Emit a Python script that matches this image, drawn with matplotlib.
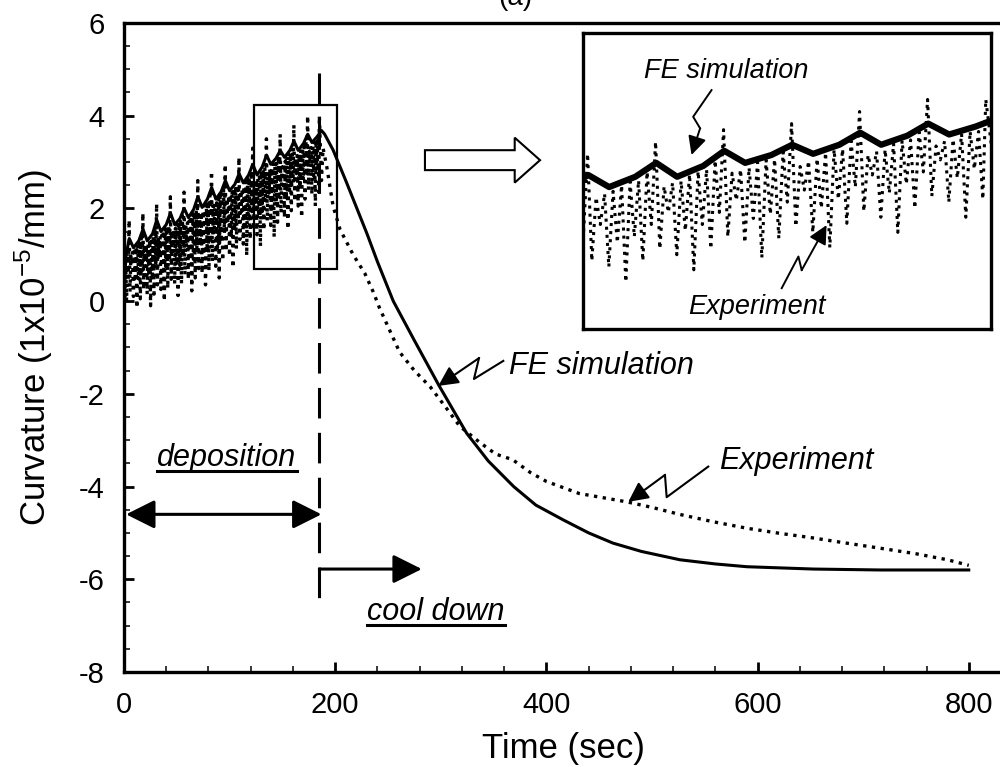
import numpy as np
import matplotlib.pyplot as plt
from matplotlib.patches import Rectangle, FancyArrow
from matplotlib.lines import Line2D
from matplotlib.ticker import MultipleLocator

plt.rcParams['font.family'] = ['Liberation Sans', 'DejaVu Sans']
plt.rcParams['mathtext.fontset'] = 'custom'
plt.rcParams['mathtext.rm'] = 'Liberation Sans'
plt.rcParams['axes.unicode_minus'] = False

# FE simulation: deposition passes (hump per pass) then cool down
fe_dep_t = [0, 2, 5, 9, 14, 18, 22, 27, 31, 35, 40, 44, 48, 53, 57, 61, 66, 70,
            74, 79, 83, 87, 92, 96, 100, 105, 109, 113, 118, 122, 126, 131, 135,
            139, 144, 148, 152, 157, 161, 165, 170, 174, 178, 183, 187]
fe_dep_y = [0.25, 1.0, 1.35, 1.15, 1.3, 1.55, 1.3, 1.45, 1.75, 1.5, 1.65, 1.9,
            1.65, 1.78, 2.0, 1.8, 1.98, 2.25, 2.02, 2.2, 2.45, 2.2, 2.36, 2.6,
            2.38, 2.52, 2.75, 2.55, 2.72, 2.95, 2.72, 2.9, 3.15, 2.95, 3.08, 3.25,
            3.1, 3.25, 3.45, 3.25, 3.4, 3.6, 3.42, 3.55, 3.68]
fe_cool_t = [190, 198, 210, 230, 240, 255, 275, 298, 324.5, 345, 369, 390, 416,
             440, 463, 490, 526.5, 560, 590, 653, 716, 800]
fe_cool_y = [3.6, 3.26, 2.6, 1.46, 0.85, 0.0, -0.85, -1.81, -2.85, -3.45, -4.0,
             -4.4, -4.72, -5.0, -5.22, -5.4, -5.58, -5.67, -5.73, -5.78, -5.8, -5.8]

# experiment: logged every 0.8125 s while depositing, 16 samples per pass
exp_step = 0.8125
exp_dep_y = [
    0.3, 0.1, 0.75, 0.0, 1.1, 0.6, 1.75, 0.2, 0.97, 0.8, 1.05, 0.1, 1.07, 0.5, 1.17, -0.15,
    1.22, 0.45, 1.24, 0.05, 1.39, 0.65, 1.9, 0.25, 1.16, 0.85, 1.21, 0.15, 1.22, 0.55, 1.32, -0.1,
    1.37, 0.55, 1.4, 0.15, 1.57, 0.75, 2.1, 0.35, 1.36, 0.95, 1.41, 0.25, 1.42, 0.65, 1.52, 0.0,
    1.57, 0.67, 1.59, 0.27, 1.74, 0.87, 2.25, 0.47, 1.51, 1.07, 1.56, 0.37, 1.57, 0.77, 1.66, 0.12,
    1.7, 0.77, 1.72, 0.37, 1.85, 0.97, 2.35, 0.57, 1.63, 1.17, 1.69, 0.47, 1.73, 0.87, 1.84, 0.22,
    1.89, 0.9, 1.92, 0.5, 2.08, 1.1, 2.6, 0.7, 1.86, 1.3, 1.92, 0.6, 1.95, 1.0, 2.06, 0.35,
    2.11, 1.05, 2.14, 0.65, 2.29, 1.25, 2.8, 0.85, 2.06, 1.45, 2.11, 0.75, 2.12, 1.15, 2.23, 0.5,
    2.28, 1.27, 2.3, 0.87, 2.44, 1.47, 2.95, 1.07, 2.22, 1.67, 2.28, 0.97, 2.3, 1.37, 2.4, 0.72,
    2.44, 1.53, 2.46, 1.13, 2.6, 1.73, 3.1, 1.33, 2.38, 1.93, 2.44, 1.23, 2.48, 1.63, 2.58, 0.98,
    2.64, 1.73, 2.66, 1.33, 2.8, 1.93, 3.3, 1.53, 2.56, 2.13, 2.62, 1.43, 2.65, 1.83, 2.76, 1.18,
    2.81, 1.93, 2.84, 1.53, 2.99, 2.13, 3.5, 1.73, 2.78, 2.33, 2.84, 1.63, 2.87, 2.03, 2.96, 1.38,
    3.0, 2.1, 3.01, 1.7, 3.13, 2.3, 3.6, 1.9, 2.89, 2.5, 2.98, 1.8, 3.02, 2.2, 3.12, 1.55,
    3.17, 2.35, 3.18, 1.95, 3.31, 2.55, 3.8, 2.15, 3.08, 2.75, 3.14, 2.05, 3.17, 2.45, 3.27, 1.8,
    3.32, 2.6, 3.33, 2.2, 3.46, 2.8, 4.0, 2.4, 3.23, 3.0, 3.31, 2.3, 3.34, 2.7, 3.43, 2.05,
    3.47, 2.85, 3.47, 2.35,
]
exp_cool_t = [185, 187, 188.5, 192, 198, 204.5, 217, 228, 236, 242, 250, 261,
              275, 290, 305, 318, 337, 352, 368, 385, 400, 431, 476, 500, 526,
              558, 590, 621, 650, 684, 716, 750, 780, 800]
exp_cool_y = [4.0, 2.6, 3.3, 2.9, 2.05, 1.55, 1.0, 0.6, 0.2, -0.15, -0.55, -1.1,
              -1.5, -1.85, -2.3, -2.7, -3.05, -3.3, -3.42, -3.7, -3.89, -4.15,
              -4.33, -4.45, -4.6, -4.76, -4.9, -5.01, -5.1, -5.22, -5.33, -5.45,
              -5.58, -5.7]

x_ticks = [0, 200, 400, 600, 800]
y_ticks = [-8, -6, -4, -2, 0, 2, 4, 6]
t_switch = 185              # end of deposition
zoom_box = (123, 0.69, 202, 4.23)

fe_t = np.r_[fe_dep_t, fe_cool_t]
fe_y = np.r_[fe_dep_y, fe_cool_y]
exp_t = np.r_[np.arange(len(exp_dep_y)) * exp_step, exp_cool_t]
exp_y = np.r_[exp_dep_y, exp_cool_y]

fig = plt.figure(figsize=(10, 7.67), dpi=100)
ax = fig.add_axes([0.124, 0.1239, 0.887, 0.8462])

ax.plot(exp_t, exp_y, color='black', ls=':', lw=2.4)
ax.plot(fe_t, fe_y, color='black', lw=2.2)

ax.set_xlim(0, 840)
ax.set_ylim(-8, 6)
ax.set_xticks(x_ticks)
ax.set_yticks(y_ticks)
ax.xaxis.set_minor_locator(MultipleLocator(40))
ax.yaxis.set_minor_locator(MultipleLocator(0.5))
ax.tick_params(which='both', direction='in', top=False, right=False)
ax.tick_params(which='major', length=7, width=2, labelsize=21, pad=14)
ax.tick_params(which='minor', length=4.5, width=1.1)
for s in ['left', 'bottom', 'top']:
    ax.spines[s].set_linewidth(2.4)
ax.spines['right'].set_visible(False)

ax.set_xlabel('Time (sec)', fontsize=25)
ax.xaxis.set_label_coords(0.495, -0.092)
ax.set_ylabel('Curvature (1x10$^{-5}$/mm)', fontsize=25)
ax.yaxis.set_label_coords(-0.078, 0.5)

fig.text(0.515, 1.003, '(a)', ha='center', va='center', fontsize=20)

# phase markers
ax.plot([t_switch, t_switch], [4.93, -6.62], color='black', lw=2.2,
        dashes=(10, 4.7))
ax.annotate('', xy=(2, -4.6), xytext=(187, -4.6),
            arrowprops=dict(arrowstyle='<|-|>,head_length=0.4,head_width=0.2',
                            mutation_scale=44, lw=2.2, color='black',
                            shrinkA=0, shrinkB=0))
ax.annotate('', xy=(282, -5.78), xytext=(t_switch, -5.78),
            arrowprops=dict(arrowstyle='-|>,head_length=0.4,head_width=0.2',
                            mutation_scale=44, lw=2.2, color='black',
                            shrinkA=0, shrinkB=0))
dep_txt = ax.text(97.5, -3.38, 'deposition', fontsize=22, style='italic',
                  ha='center', va='center')
cool_txt = ax.text(295.5, -6.71, 'cool down', fontsize=22, style='italic',
                   ha='center', va='center')

# labels with lightning arrows
ax.text(365, -1.41, 'FE simulation', fontsize=22, style='italic',
        ha='left', va='center')
ax.plot([359.2, 331.4, 336.2], [-1.29, -1.68, -1.23], color='black', lw=1.5)
ax.annotate('', xy=(297.6, -1.83), xytext=(336.2, -1.23),
            arrowprops=dict(arrowstyle='-|>,head_length=0.4,head_width=0.2',
                            mutation_scale=30, lw=1.5, color='black',
                            shrinkA=0, shrinkB=0))
ax.text(564, -3.46, 'Experiment', fontsize=22, style='italic',
        ha='left', va='center')
ax.plot([553.3, 513.9, 512.3], [-3.57, -4.23, -3.75], color='black', lw=1.5)
ax.annotate('', xy=(477.6, -4.33), xytext=(512.3, -3.75),
            arrowprops=dict(arrowstyle='-|>,head_length=0.4,head_width=0.2',
                            mutation_scale=30, lw=1.5, color='black',
                            shrinkA=0, shrinkB=0))

# zoom box and hollow arrow
x0, y0, x1, y1 = zoom_box
ax.add_patch(Rectangle((x0, y0), x1 - x0, y1 - y0, fill=False, lw=1.6,
                       color='black'))
ax.add_patch(FancyArrow(285, 3.04, 109, 0, width=0.43, head_width=0.97,
                        head_length=24, length_includes_head=True,
                        fc='white', ec='black', lw=1.5))

# inset: close-up of the last deposition passes
axi = fig.add_axes([0.583, 0.571, 0.408, 0.386])
axi.plot(exp_t, exp_y, color='black', ls=':', lw=2.2)
axi.plot(fe_t, fe_y, color='black', lw=4.5)
axi.set_xlim(108, 186)
axi.set_ylim(0.2, 5.1)
axi.set_xticks([])
axi.set_yticks([])
for s in axi.spines.values():
    s.set_linewidth(2.4)
axi.text(0.35, 0.87, 'FE simulation', transform=axi.transAxes, fontsize=19.5,
         style='italic', ha='center', va='center')
axi.plot([0.315, 0.270, 0.287], [0.807, 0.717, 0.678], color='black', lw=1.4,
         transform=axi.transAxes)
axi.annotate('', xy=(0.266, 0.588), xytext=(0.287, 0.678),
             xycoords='axes fraction', textcoords='axes fraction',
             arrowprops=dict(arrowstyle='-|>,head_length=0.4,head_width=0.2',
                             mutation_scale=28, lw=1.4, color='black',
                             shrinkA=0, shrinkB=0))
axi.text(0.426, 0.074, 'Experiment', transform=axi.transAxes, fontsize=19.5,
         style='italic', ha='center', va='center')
axi.plot([0.487, 0.528, 0.536], [0.138, 0.245, 0.199], color='black', lw=1.4,
         transform=axi.transAxes)
axi.annotate('', xy=(0.597, 0.351), xytext=(0.536, 0.199),
             xycoords='axes fraction', textcoords='axes fraction',
             arrowprops=dict(arrowstyle='-|>,head_length=0.4,head_width=0.2',
                             mutation_scale=28, lw=1.4, color='black',
                             shrinkA=0, shrinkB=0))

# underline the phase names
fig.canvas.draw()
inv = fig.transFigure.inverted()
for txt in (dep_txt, cool_txt):
    bb = txt.get_window_extent()
    (ux0, uy), (ux1, _) = inv.transform([[bb.x0, bb.y0 + 2], [bb.x1, bb.y1]])
    fig.add_artist(Line2D([ux0, ux1], [uy, uy], color='black', lw=2.2,
                          transform=fig.transFigure))

fig.savefig('out.png', dpi=100)
